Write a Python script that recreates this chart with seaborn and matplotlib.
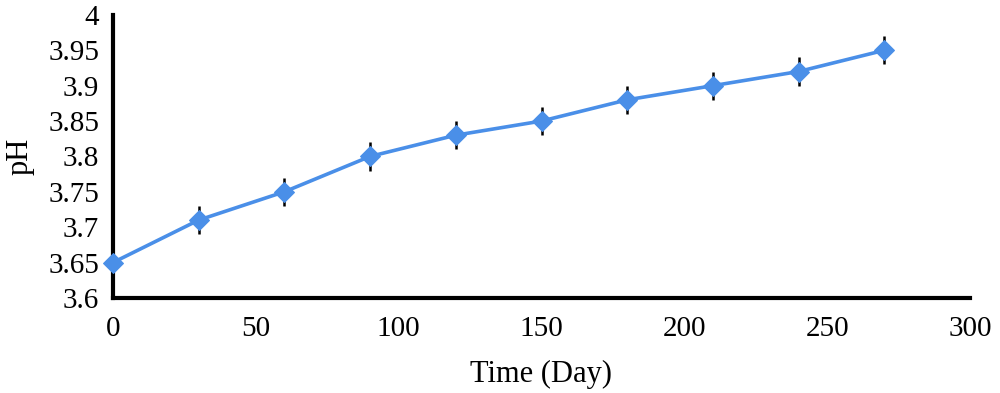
import matplotlib
matplotlib.use("Agg")
import matplotlib.pyplot as plt
import seaborn as sns
import pandas as pd

# === DATA ===
days = [0, 30, 60, 90, 120, 150, 180, 210, 240, 270]
ph = [3.65, 3.71, 3.75, 3.80, 3.83, 3.85, 3.88, 3.90, 3.92, 3.95]
ph_err = [0.0, 0.02, 0.02, 0.02, 0.02, 0.02, 0.02, 0.02, 0.02, 0.02]
x_ticks = [0, 50, 100, 150, 200, 250, 300]
y_ticks = [3.6, 3.65, 3.7, 3.75, 3.8, 3.85, 3.9, 3.95, 4.0]
y_labels = ["3.6", "3.65", "3.7", "3.75", "3.8", "3.85", "3.9", "3.95", "4"]

df = pd.DataFrame({"day": days, "ph": ph, "err": ph_err})

sns.set_style("white")
plt.rcParams["font.family"] = ["Liberation Serif", "DejaVu Serif"]

fig = plt.figure(figsize=(10, 3.93), dpi=100)
ax = fig.add_axes([0.113, 0.242, 0.857, 0.72])

line_color = "#4a8fe8"

# error bars first, then line + markers on top
ax.errorbar(df["day"], df["ph"], yerr=df["err"], fmt="none",
            ecolor="black", elinewidth=1.8, capsize=0, zorder=2)
sns.lineplot(data=df, x="day", y="ph", ax=ax, color=line_color,
             linewidth=2.6, marker="D", markersize=10,
             markeredgecolor=line_color, zorder=3, clip_on=False)

ax.set_xlim(0, 300)
ax.set_ylim(3.6, 4.0)
ax.set_xticks(x_ticks)
ax.set_yticks(y_ticks)
ax.set_yticklabels(y_labels)

for side in ["top", "right"]:
    ax.spines[side].set_visible(False)
for side in ["left", "bottom"]:
    ax.spines[side].set_linewidth(3)
    ax.spines[side].set_color("black")

ax.tick_params(axis="both", direction="out", length=5, width=2.5,
               labelsize=21, colors="black")
ax.tick_params(axis="x", pad=8)
ax.tick_params(axis="y", pad=5)

ax.set_xlabel("Time (Day)", fontsize=22, labelpad=13, color="black")
ax.set_ylabel("pH", fontsize=22, labelpad=10, color="black")

fig.savefig("out.png", dpi=100)
